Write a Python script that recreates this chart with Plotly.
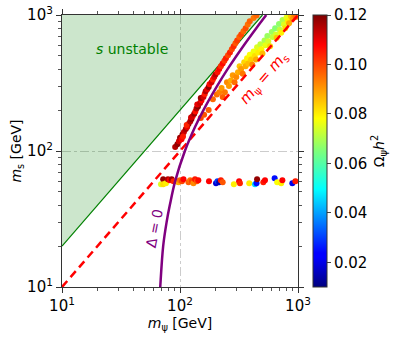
import numpy as np
import plotly.graph_objects as go

# diagonal band of scan points: m_psi [GeV], m_s [GeV], relic density
band_mpsi = [91, 95, 98, 100, 103, 105, 108, 106, 112, 115, 118, 114, 122, 125, 128, 124,
             132, 135, 138, 142, 140, 148, 152, 150, 158, 162, 165, 170, 175, 178, 185, 190,
             195, 200, 208, 215, 222, 230, 238, 245, 255, 265, 275, 285, 295, 305, 318, 330,
             345, 360, 375, 390, 420, 445,
             150, 160, 175, 190, 205, 215, 225, 230, 240, 250, 260, 270, 280, 290, 300, 310,
             320, 330, 340, 350, 360, 370, 380, 390, 400, 410, 420, 430, 440, 450, 460, 480,
             490, 500, 520, 530, 550, 560, 580, 600, 610, 640, 650, 660, 690, 700, 720, 740,
             760, 780, 800, 820, 840, 870, 900, 930, 960]
band_ms = [107, 112, 118, 125, 122, 132, 138, 128, 145, 150, 158, 155, 165, 172, 180, 176,
           188, 195, 205, 212, 220, 225, 235, 245, 250, 262, 275, 285, 295, 310, 320, 335,
           350, 365, 380, 400, 420, 440, 460, 480, 505, 530, 560, 590, 620, 650, 690, 720,
           760, 800, 850, 900, 950, 990,
           175, 185, 200, 240, 260, 270, 290, 250, 270, 320, 300, 330, 360, 320, 350, 380,
           420, 400, 370, 450, 420, 480, 440, 510, 470, 430, 540, 500, 470, 580, 530, 610,
           560, 520, 650, 600, 700, 640, 590, 750, 690, 800, 720, 680, 860, 780, 740, 920,
           850, 800, 960, 900, 870, 980, 940, 990, 970]
band_omega = [0.115, 0.118, 0.112, 0.117, 0.108, 0.119, 0.113, 0.105, 0.116, 0.110, 0.119, 0.104,
              0.114, 0.118, 0.108, 0.112, 0.117, 0.106, 0.115, 0.119, 0.110, 0.113, 0.108, 0.117,
              0.112, 0.105, 0.115, 0.110, 0.118, 0.107, 0.112, 0.104, 0.110, 0.114, 0.106, 0.108,
              0.103, 0.107, 0.102, 0.105, 0.100, 0.104, 0.100, 0.103, 0.098, 0.101, 0.097, 0.100,
              0.096, 0.099, 0.095, 0.097, 0.094, 0.096,
              0.100, 0.098, 0.097, 0.096, 0.095, 0.093, 0.090, 0.097, 0.094, 0.092, 0.090, 0.088,
              0.090, 0.095, 0.092, 0.088, 0.085, 0.090, 0.094, 0.083, 0.088, 0.080, 0.086, 0.078,
              0.084, 0.092, 0.077, 0.082, 0.088, 0.075, 0.080, 0.072, 0.079, 0.086, 0.070, 0.076,
              0.068, 0.074, 0.083, 0.068, 0.072, 0.066, 0.074, 0.085, 0.067, 0.072, 0.080, 0.070,
              0.075, 0.082, 0.076, 0.080, 0.088, 0.085, 0.090, 0.092, 0.095]

# horizontal band near m_s ~ 60 GeV
flat_mpsi = [69, 72, 72, 76, 79, 82, 85, 88, 94, 97, 100, 104, 107, 118, 122, 126, 130, 134, 139,
             143, 176, 202, 208, 215, 222, 230, 286, 317, 322, 386, 432, 445, 450, 508, 525,
             634, 666, 720, 737, 895, 950]
flat_ms = [57, 62, 57, 58, 62, 61, 62, 60, 60, 59, 61, 60, 62, 59, 61, 60, 58, 62, 60,
           61, 60, 58, 60, 59, 61, 59, 57, 60, 58, 58, 57, 58, 62, 59, 61,
           63, 59, 58, 61, 58, 60]
flat_omega = [0.075, 0.118, 0.082, 0.080, 0.115, 0.108, 0.117, 0.104, 0.098, 0.088, 0.095, 0.100,
              0.108, 0.097, 0.094, 0.100, 0.092, 0.105, 0.098, 0.107, 0.108, 0.018, 0.030, 0.015,
              0.105, 0.098, 0.080, 0.108, 0.104, 0.080, 0.045, 0.025, 0.118, 0.105, 0.108,
              0.025, 0.078, 0.080, 0.108, 0.020, 0.105]

# Delta = 0 curve
delta_mpsi = [67, 68, 72, 77, 82, 91, 110, 134, 158, 206, 253, 348, 443, 538]
delta_ms = [8, 10, 20, 30, 40, 60, 100, 150, 200, 300, 400, 600, 800, 1000]

# m_s = 2 m_psi boundary and m_psi = m_s line
unstable_x = [10, 500]
unstable_y = [20, 1000]
equal_x = [10, 1000]
equal_y = [10, 1000]

tick_vals = [10, 100, 1000]
tick_text = ["10<sup>1</sup>", "10<sup>2</sup>", "10<sup>3</sup>"]
cbar_vals = [0.02, 0.04, 0.06, 0.08, 0.10, 0.12]

jet = [[0, "#00007f"], [0.11, "#0000ff"], [0.125, "#0000ff"], [0.36, "#00ffff"],
       [0.5, "#7dff7a"], [0.62, "#ffff00"], [0.89, "#ff0000"], [1, "#7f0000"]]

fig = go.Figure()

# shaded s-unstable region
fig.add_trace(go.Scatter(x=unstable_x + [10], y=unstable_y + [1000], fill="toself",
                         fillcolor="rgba(0,128,0,0.2)", line=dict(width=0), mode="lines",
                         hoverinfo="skip"))
fig.add_trace(go.Scatter(x=unstable_x, y=unstable_y, mode="lines",
                         line=dict(color="green", width=1.2)))

fig.add_trace(go.Scatter(x=band_mpsi, y=band_ms, mode="markers",
                         marker=dict(color=band_omega, coloraxis="coloraxis", size=6)))
fig.add_trace(go.Scatter(x=flat_mpsi, y=flat_ms, mode="markers",
                         marker=dict(color=flat_omega, coloraxis="coloraxis", size=6)))

fig.add_trace(go.Scatter(x=equal_x, y=equal_y, mode="lines",
                         line=dict(color="red", width=2.5, dash="8px,5px")))
fig.add_trace(go.Scatter(x=delta_mpsi, y=delta_ms, mode="lines", line_shape="spline",
                         line=dict(color="purple", width=2.5)))

font = dict(family="DejaVu Sans", size=14, color="black")
tfont = dict(family="DejaVu Sans", size=15, color="black")
axis = dict(type="log", range=[1, 3], tickvals=tick_vals, ticktext=tick_text,
            showline=True, linecolor="#333", linewidth=1.2, mirror="allticks",
            ticks="outside", ticklen=5, tickcolor="#333", automargin=False,
            minor=dict(ticks="outside", ticklen=3, tickcolor="#555", dtick="D1", showgrid=False),
            showgrid=True, gridcolor="#cccccc", griddash="dashdot", gridwidth=1,
            zeroline=False, tickfont=tfont)

fig.update_layout(
    width=398, height=342,
    margin=dict(l=62, r=100, t=15, b=55, autoexpand=False),
    plot_bgcolor="white", paper_bgcolor="white",
    showlegend=False, font=font,
    xaxis=dict(axis, title=dict(text="<i>m</i><sub>ψ</sub> [GeV]", font=font, standoff=2)),
    yaxis=dict(axis, title=dict(text="<i>m</i><sub>s</sub> [GeV]", font=font, standoff=2)),
    coloraxis=dict(colorscale=jet, cmin=0.01, cmax=0.12,
                   colorbar=dict(x=1.064, xanchor="left", xpad=0, thickness=14, len=1,
                                 y=0.5, ypad=0, outlinewidth=1, outlinecolor="#333",
                                 tickvals=cbar_vals, tickformat=".2f",
                                 ticks="outside", ticklen=4, tickfont=tfont,
                                 title=dict(text="Ω<sub>ψ</sub><i>h</i><sup>2</sup>",
                                            side="right", font=font))),
    annotations=[
        dict(x=np.log10(39), y=np.log10(560), text="<i>s</i> unstable", showarrow=False,
             font=dict(family="DejaVu Sans", size=14, color="green")),
        dict(x=np.log10(520), y=np.log10(345), text="<i>m</i><sub>ψ</sub> = <i>m</i><sub>s</sub>",
             showarrow=False, textangle=-49,
             font=dict(family="DejaVu Sans", size=15, color="red")),
        dict(x=np.log10(61), y=np.log10(27), text="Δ = 0", showarrow=False, textangle=-79,
             font=dict(family="DejaVu Sans", size=14, color="purple")),
    ],
)

# drop the default page margin so the figure sits at the window corner
fig.write_html("out.html", config={"displayModeBar": False},
               post_script="document.body.style.margin='0';")
